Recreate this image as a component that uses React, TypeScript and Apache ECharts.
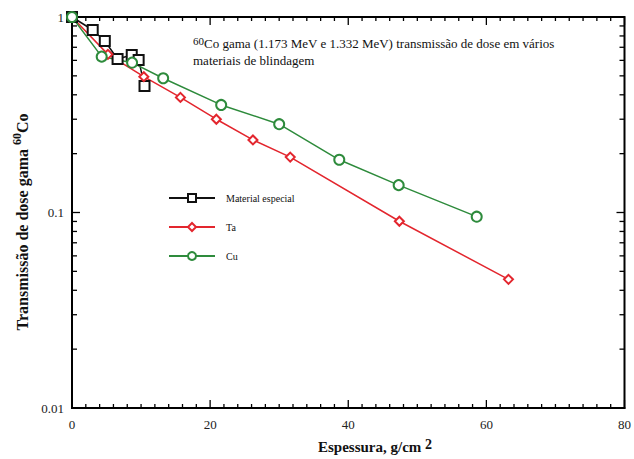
import React, { useEffect, useRef } from "react";
import * as echarts from "echarts";

const especialX = [0, 3.0, 4.75, 6.6, 8.65, 9.65, 10.5];
const especialY = [1, 0.858, 0.754, 0.61, 0.639, 0.603, 0.444];

const taX = [0, 5.2, 10.4, 15.7, 20.9, 26.2, 31.6, 47.4, 63.2];
const taY = [1, 0.644, 0.495, 0.388, 0.3, 0.235, 0.192, 0.0902, 0.0455];

const cuX = [0, 4.3, 8.7, 13.2, 21.6, 30.0, 38.7, 47.3, 58.6];
const cuY = [1, 0.627, 0.584, 0.486, 0.355, 0.283, 0.186, 0.138, 0.0952];

const seriesNames = ["Material especial", "Ta", "Cu"];
const yMajorTicks = [0.01, 0.1, 1];
const yMinorTicks = [
  0.02, 0.03, 0.04, 0.05, 0.06, 0.07, 0.08, 0.09,
  0.2, 0.3, 0.4, 0.5, 0.6, 0.7, 0.8, 0.9,
];
const xMajorTicks = [0, 20, 40, 60, 80];
const xMinorTicks = [
  2, 4, 6, 8, 10, 12, 14, 16, 18, 22, 24, 26, 28, 30, 32, 34, 36, 38,
  42, 44, 46, 48, 50, 52, 54, 56, 58, 62, 64, 66, 68, 70, 72, 74, 76, 78,
];

const X_MIN = 0;
const X_MAX = 80;
const Y_MIN = 0.01;
const Y_MAX = 1;

const SERIF = "'Liberation Serif', 'Times New Roman', serif";

function zip(xs: number[], ys: number[]) {
  return xs.map((x, i) => [x, ys[i]]);
}

export default function App() {
  const ref = useRef<HTMLDivElement>(null);
  useEffect(() => {
    if (!ref.current) return;
    const chart = echarts.init(ref.current, null, { renderer: "svg" });
    const axisLine = { show: true, lineStyle: { color: "#000", width: 2 } };
    const tw = 1.3;

    const yTickData = [
      ...yMajorTicks.map((v) => [X_MIN, v, 8]),
      ...yMinorTicks.map((v) => [X_MIN, v, 5]),
    ];
    const xTickData = [
      ...xMajorTicks.map((v) => [v, Y_MAX, 8]),
      ...xMinorTicks.map((v) => [v, Y_MAX, 4]),
    ];

    const lineSeries = (
      name: string,
      data: number[][],
      color: string,
      symbol: string,
      size: number
    ) => ({
      name,
      type: "line" as const,
      data,
      symbol,
      symbolSize: size,
      showAllSymbol: true,
      lineStyle: { color, width: 1.5 },
      itemStyle: { color: "#fff", borderColor: color, borderWidth: 2 },
      emphasis: { disabled: true },
    });

    chart.setOption({
      animation: false,
      grid: {
        left: 72,
        right: 6,
        top: 17,
        bottom: 51,
        show: true,
        borderColor: "#000",
        borderWidth: 2,
      },
      xAxis: {
        type: "value",
        min: X_MIN,
        max: X_MAX,
        interval: 20,
        axisLine: { ...axisLine, onZero: false },
        splitLine: { show: false },
        axisTick: { show: false },
        axisLabel: { color: "#222", fontFamily: SERIF, fontSize: 13, margin: 10 },
      },
      yAxis: {
        type: "log",
        logBase: 10,
        min: Y_MIN,
        max: Y_MAX,
        axisLine,
        splitLine: { show: false },
        axisTick: { show: false },
        axisLabel: {
          color: "#222",
          fontFamily: SERIF,
          fontSize: 13,
          margin: 8,
          formatter: (v: number) => String(v),
        },
      },
      legend: {
        orient: "vertical",
        left: 163,
        top: 188,
        itemWidth: 46,
        itemHeight: 10,
        itemGap: 19,
        data: seriesNames,
        textStyle: {
          fontFamily: SERIF,
          fontSize: 10,
          lineHeight: 10,
          color: "#111",
          padding: [0, 0, 0, 6],
        },
      },
      series: [
        lineSeries(seriesNames[0], zip(especialX, especialY), "#111", "rect", 10),
        lineSeries(seriesNames[1], zip(taX, taY), "#e3262e", "diamond", 9),
        lineSeries(seriesNames[2], zip(cuX, cuY), "#2e8b3c", "circle", 10),
        {
          type: "custom",
          data: yTickData,
          renderItem: (_p: any, api: any) => {
            const v = api.value(1);
            const len = api.value(2);
            const l = api.coord([X_MIN, v]);
            const r = api.coord([X_MAX, v]);
            return {
              type: "group",
              children: [
                { type: "rect", shape: { x: l[0], y: l[1] - tw / 2, width: len, height: tw }, style: { fill: "#000" } },
                { type: "rect", shape: { x: r[0] - len, y: r[1] - tw / 2, width: len, height: tw }, style: { fill: "#000" } },
              ],
            };
          },
        },
        {
          type: "custom",
          data: xTickData,
          renderItem: (_p: any, api: any) => {
            const v = api.value(0);
            const len = api.value(2);
            const b = api.coord([v, Y_MIN]);
            const t = api.coord([v, Y_MAX]);
            return {
              type: "group",
              children: [
                { type: "rect", shape: { x: b[0] - tw / 2, y: b[1] - len, width: tw, height: len }, style: { fill: "#000" } },
                { type: "rect", shape: { x: t[0] - tw / 2, y: t[1], width: tw, height: len }, style: { fill: "#000" } },
              ],
            };
          },
        },
      ],
      graphic: [
        {
          type: "text",
          left: 193,
          top: 35,
          style: {
            text: "{sup|60}{n|Co gama (1.173 MeV e 1.332 MeV) transmissão de dose em vários}\n{n|materiais de blindagem}",
            fill: "#111",
            rich: {
              n: { fontFamily: SERIF, fontSize: 13, lineHeight: 17, fill: "#111" },
              sup: { fontFamily: SERIF, fontSize: 11, lineHeight: 17, verticalAlign: "top", fill: "#111" },
            },
          },
        },
        {
          type: "text",
          x: 22,
          y: 222,
          rotation: Math.PI / 2,
          style: {
            text: "{n|Transmissão de dose gama }{sup|60}{n|Co}",
            align: "center",
            verticalAlign: "middle",
            fill: "#111",
            rich: {
              n: { fontFamily: SERIF, fontSize: 16, fontWeight: "bold", lineHeight: 22, fill: "#111" },
              sup: { fontFamily: SERIF, fontSize: 12, fontWeight: "bold", lineHeight: 22, verticalAlign: "top", fill: "#111" },
            },
          },
        },
        {
          type: "text",
          x: 375,
          y: 447,
          style: {
            text: "{n|Espessura, g/cm }{sup|2}",
            align: "center",
            verticalAlign: "middle",
            fill: "#111",
            rich: {
              n: { fontFamily: SERIF, fontSize: 15, fontWeight: "bold", lineHeight: 20, fill: "#111" },
              sup: { fontFamily: SERIF, fontSize: 14, fontWeight: "bold", lineHeight: 20, verticalAlign: "top", fill: "#111" },
            },
          },
        },
      ],
    });
    return () => chart.dispose();
  }, []);
  return (
    <div
      ref={ref}
      style={{ position: "fixed", left: 0, top: 0, width: 634, height: 459, background: "#fff" }}
    />
  );
}
